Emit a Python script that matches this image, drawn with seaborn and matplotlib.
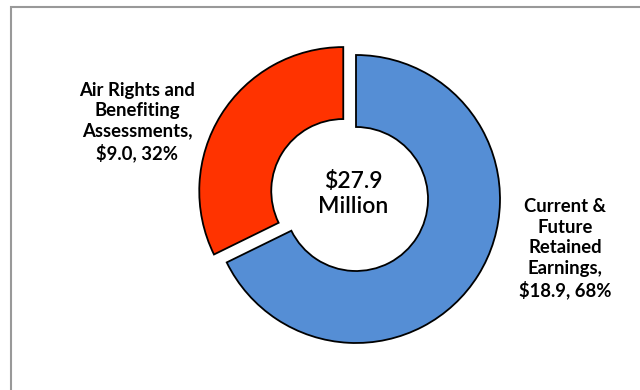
import matplotlib
matplotlib.use("Agg")
import matplotlib.pyplot as plt
import seaborn as sns
from matplotlib.patches import Rectangle

sns.set_theme(style="white")
plt.rcParams['font.family'] = ['Lato', 'DejaVu Sans']

categories = ["Current &\nFuture\nRetained\nEarnings,", "Air Rights and\nBenefiting\nAssessments,"]
values = [18.9, 9.0]
percents = ["68%", "32%"]
total_label = "$27.9\nMillion"
colors = ["#558ED5", "#FF3300"]

fig = plt.figure(figsize=(6.4, 3.9), dpi=100)
ax = fig.add_axes([0, 0, 1, 1])

cx, cy, r = 356, 191, 144
wedges, _ = ax.pie(values, colors=colors, startangle=90, counterclock=False,
                   explode=[0, 15], center=(cx, cy), radius=r,
                   wedgeprops=dict(width=r * 0.5, edgecolor="black", linewidth=1.3))
ax.set_xlim(0, 640)
ax.set_ylim(0, 390)
ax.set_aspect('equal')
ax.axis('off')

ax.add_patch(Rectangle((11, -20), 700, 390 - 7 + 20, fill=False,
                       edgecolor="#999999", linewidth=1.5))

labels = [f"{c}\n${v:.1f}, {p}" for c, v, p in zip(categories, values, percents)]
ax.text(565, 390 - 249, labels[0], ha="center", va="center", fontsize=13.3,
        fontweight="bold", linespacing=1.25, color="black")
ax.text(137, 390 - 122, labels[1], ha="center", va="center", fontsize=13.3,
        fontweight="bold", linespacing=1.25, color="black")
ax.text(353, 390 - 194, total_label, ha="center", va="center", fontsize=16.5,
        fontweight="semibold", linespacing=1.2, color="black")

fig.savefig("out.png", dpi=100)
